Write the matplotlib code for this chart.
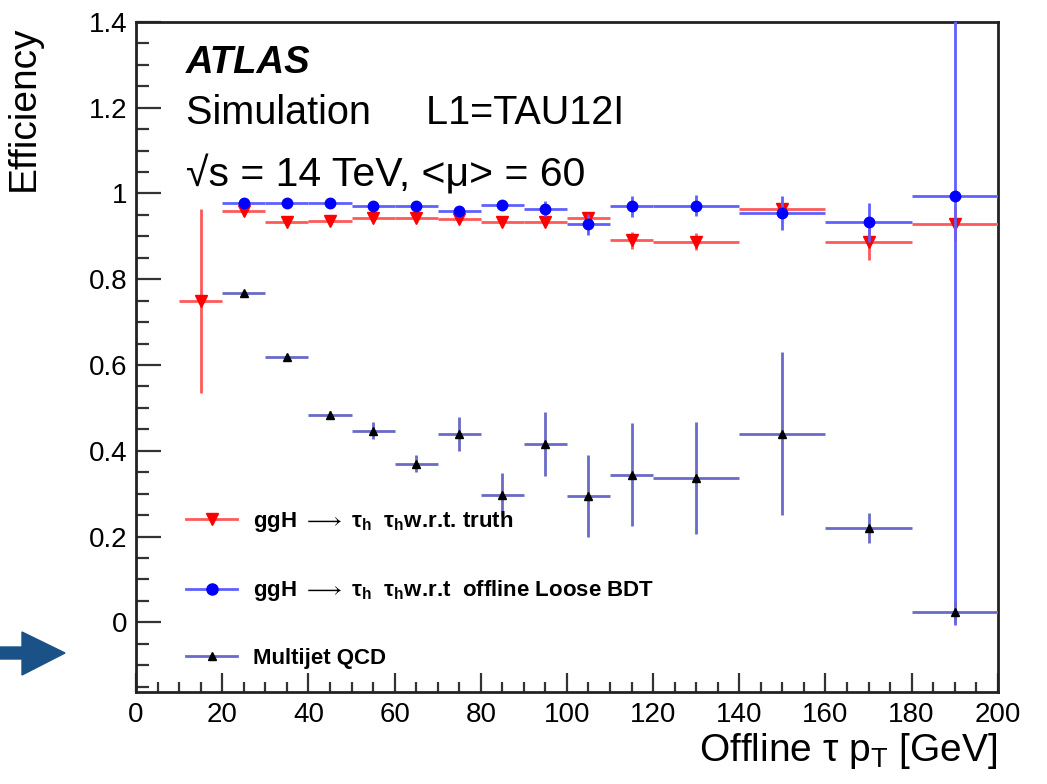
import matplotlib
matplotlib.use("Agg")
import matplotlib.pyplot as plt
from matplotlib.lines import Line2D
from matplotlib.patches import Polygon
from matplotlib.ticker import MultipleLocator
import numpy as np

plt.rcParams['font.family'] = ['Liberation Sans', 'DejaVu Sans']
plt.rcParams['mathtext.fontset'] = 'custom'
plt.rcParams['mathtext.rm'] = 'Liberation Sans'
plt.rcParams['mathtext.it'] = 'Liberation Sans:italic'
plt.rcParams['mathtext.bf'] = 'Liberation Sans:bold'
plt.rcParams['mathtext.default'] = 'regular'

# bins (GeV)
lo_edges = [10, 20, 30, 40, 50, 60, 70, 80, 90, 100, 110, 120, 140, 160, 180]
hi_edges = [20, 30, 40, 50, 60, 70, 80, 90, 100, 110, 120, 140, 160, 180, 200]

# ggH -> tau tau w.r.t. truth (starts at 10-20 bin)
truth_eff = [0.749, 0.960, 0.933, 0.935, 0.944, 0.944, 0.940, 0.933, 0.933, 0.942,
             0.891, 0.888, 0.963, 0.886, 0.930]
truth_err = [0.215, 0.008, 0.006, 0.006, 0.006, 0.006, 0.007, 0.007, 0.008, 0.010,
             0.020, 0.020, 0.012, 0.040, 0.040]

# ggH -> tau tau w.r.t. offline Loose BDT (starts at 20-30 bin)
bdt_eff = [0.977, 0.979, 0.979, 0.972, 0.972, 0.960, 0.974, 0.965, 0.928,
           0.970, 0.972, 0.954, 0.933, 0.995]
bdt_err = [0.006, 0.006, 0.006, 0.008, 0.008, 0.010, 0.010, 0.017, 0.025,
           0.025, 0.025, 0.040, 0.045, 1.000]

# Multijet QCD (starts at 20-30 bin)
qcd_eff = [0.767, 0.619, 0.484, 0.447, 0.370, 0.440, 0.298, 0.416, 0.295,
           0.344, 0.337, 0.440, 0.219, 0.025]
qcd_err = [0.005, 0.007, 0.010, 0.020, 0.020, 0.040, 0.050, 0.075, 0.095,
           0.120, 0.130, 0.190, 0.035, 0.025]

lo = np.array(lo_edges, dtype=float)
hi = np.array(hi_edges, dtype=float)
centers = (lo + hi) / 2
halfw = (hi - lo) / 2

fig = plt.figure(figsize=(10.47, 7.84), dpi=100)
ax = fig.add_axes([0.130, 0.117, 0.823, 0.855])

red_line = '#ff5a5a'
blue_line = '#6060ff'
qcd_line = '#6a6ac8'

ax.errorbar(centers, truth_eff, yerr=truth_err, xerr=halfw, fmt='v', color='#ff0000',
            ecolor=red_line, elinewidth=2.0, capsize=0, markersize=8, zorder=3)
ax.errorbar(centers[1:], bdt_eff, yerr=bdt_err, xerr=halfw[1:], fmt='o', color='#0000ff',
            ecolor=blue_line, elinewidth=2.0, capsize=0, markersize=7.5, zorder=4)
ax.errorbar(centers[1:], qcd_eff, yerr=qcd_err, xerr=halfw[1:], fmt='^', color='black',
            ecolor=qcd_line, elinewidth=2.0, capsize=0, markersize=6, zorder=4)

ax.set_xlim(0, 200)
ax.set_ylim(-0.163, 1.4)

ax.xaxis.set_major_locator(MultipleLocator(20))
ax.xaxis.set_minor_locator(MultipleLocator(5))
ax.yaxis.set_major_locator(MultipleLocator(0.2))
ax.yaxis.set_minor_locator(MultipleLocator(0.05))
ax.yaxis.set_major_formatter(plt.FuncFormatter(lambda v, p: '%g' % round(v, 2)))

ax.tick_params(axis='both', which='both', direction='in', top=False, right=False,
               labelsize=20, width=1.6, color='#333333')
ax.tick_params(axis='x', which='major', length=14, pad=7)
ax.tick_params(axis='x', which='minor', length=7)
ax.tick_params(axis='y', which='major', length=18, pad=6)
ax.tick_params(axis='y', which='minor', length=9)
for s in ax.spines.values():
    s.set_linewidth(2.0)
    s.set_color('#222222')

ax.set_ylabel('Efficiency', fontsize=28, loc='top')
ax.yaxis.set_label_coords(-0.109, 0.995)
ax.set_xlabel(r'Offline τ p$_{\mathrm{T}}$ [GeV]', fontsize=28, loc='right')
ax.xaxis.set_label_coords(1.0, -0.058)

ax.text(0.058, 0.924, 'ATLAS', transform=ax.transAxes, fontsize=27.5,
        fontweight='bold', fontstyle='italic')
ax.text(0.058, 0.848, 'Simulation     L1=TAU12I', transform=ax.transAxes, fontsize=28.5)
ax.text(0.058, 0.754, '\u221as = 14 TeV, <\u03bc> = 60', transform=ax.transAxes, fontsize=29.5)

handles = [
    Line2D([], [], color=red_line, lw=2.0, marker='v', mfc='#ff0000', mec='#ff0000', ms=8),
    Line2D([], [], color=blue_line, lw=2.0, marker='o', mfc='#0000ff', mec='#0000ff', ms=8),
    Line2D([], [], color=qcd_line, lw=2.0, marker='^', mfc='black', mec='black', ms=6),
]
labels = [
    r'ggH $\longrightarrow$ τ$_{\mathbf{h}}$  τ$_{\mathbf{h}}$w.r.t. truth',
    r'ggH $\longrightarrow$ τ$_{\mathbf{h}}$  τ$_{\mathbf{h}}$w.r.t  offline Loose BDT',
    'Multijet QCD',
]
ax.legend(handles, labels, loc='lower left', bbox_to_anchor=(0.035, 0.005),
          frameon=False, handlelength=2.3, handletextpad=0.7, labelspacing=2.0,
          prop={'weight': 'bold', 'size': 16})

# arrow on the left side of the figure
W, H = 1047.0, 784.0
arrow_px = [(0, 647), (22, 647), (22, 632), (65, 653), (22, 675), (22, 659), (0, 659)]
fig.patches.append(Polygon([(x / W, 1 - y / H) for x, y in arrow_px], closed=True,
                           transform=fig.transFigure, color='#1a5288'))

fig.savefig('out.png', dpi=100)
